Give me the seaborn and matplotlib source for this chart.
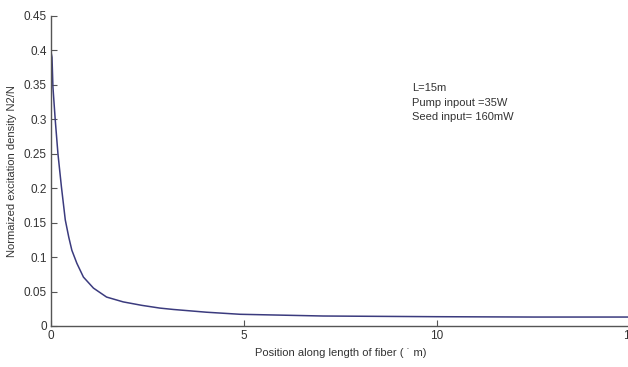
import matplotlib
matplotlib.use("Agg")
import matplotlib.pyplot as plt
import seaborn as sns
import pandas as pd

# data
position_m = [0, 0.026, 0.05, 0.11, 0.18, 0.27, 0.37, 0.46, 0.54, 0.67, 0.84,
              1.10, 1.44, 1.87, 2.35, 2.82, 3.17, 4.03, 4.9, 5.76, 7.05, 8.5,
              10, 12.5, 15]
n2_over_n = [0.398, 0.390, 0.347, 0.299, 0.250, 0.202, 0.154, 0.129, 0.110,
             0.091, 0.071, 0.055, 0.042, 0.035, 0.030, 0.026, 0.024, 0.020,
             0.017, 0.016, 0.0145, 0.014, 0.0135, 0.013, 0.013]
x_ticks = [0, 5, 10, 15]
y_ticks = [0, 0.05, 0.1, 0.15, 0.2, 0.25, 0.3, 0.35, 0.4, 0.45]
y_tick_labels = ["0", "0.05", "0.1", "0.15", "0.2", "0.25", "0.3", "0.35", "0.4", "0.45"]
annotation = "L=15m\nPump inpout =35W\nSeed input= 160mW"

df = pd.DataFrame({"x": position_m, "y": n2_over_n})

sns.set_theme(style="white")
plt.rcParams["font.family"] = ["Liberation Sans Narrow", "Liberation Sans", "DejaVu Sans"]

fig = plt.figure(figsize=(6.28, 3.67), dpi=100)
ax = fig.add_axes([51 / 628, 1 - 326 / 367, 579 / 628, 310 / 367])

sns.lineplot(data=df, x="x", y="y", ax=ax, color="#3b3b7e", linewidth=1.1)

ax.set_xlim(0, 15)
ax.set_ylim(0, 0.45)
ax.set_xticks(x_ticks)
ax.set_xticklabels([str(t) for t in x_ticks])
ax.set_yticks(y_ticks)
ax.set_yticklabels(y_tick_labels)

for s in ["top", "right"]:
    ax.spines[s].set_visible(False)
for s in ["left", "bottom"]:
    ax.spines[s].set_color("#555555")
    ax.spines[s].set_linewidth(1.0)

ax.tick_params(axis="both", direction="in", length=4, width=0.8, colors="#555555",
               labelsize=8.5, labelcolor="#333333", pad=3,
               bottom=True, left=True)

ax.set_xlabel("Position along length of fiber ( \u02d9 m)", fontsize=8, color="#333333", labelpad=4)
ax.set_ylabel("Normaized excitation density N2/N", fontsize=8, color="#333333", labelpad=5)

ax.text(9.35, 0.353, annotation, fontsize=8, color="#333333", va="top", ha="left",
        linespacing=1.6)

fig.savefig("out.png", dpi=100)
